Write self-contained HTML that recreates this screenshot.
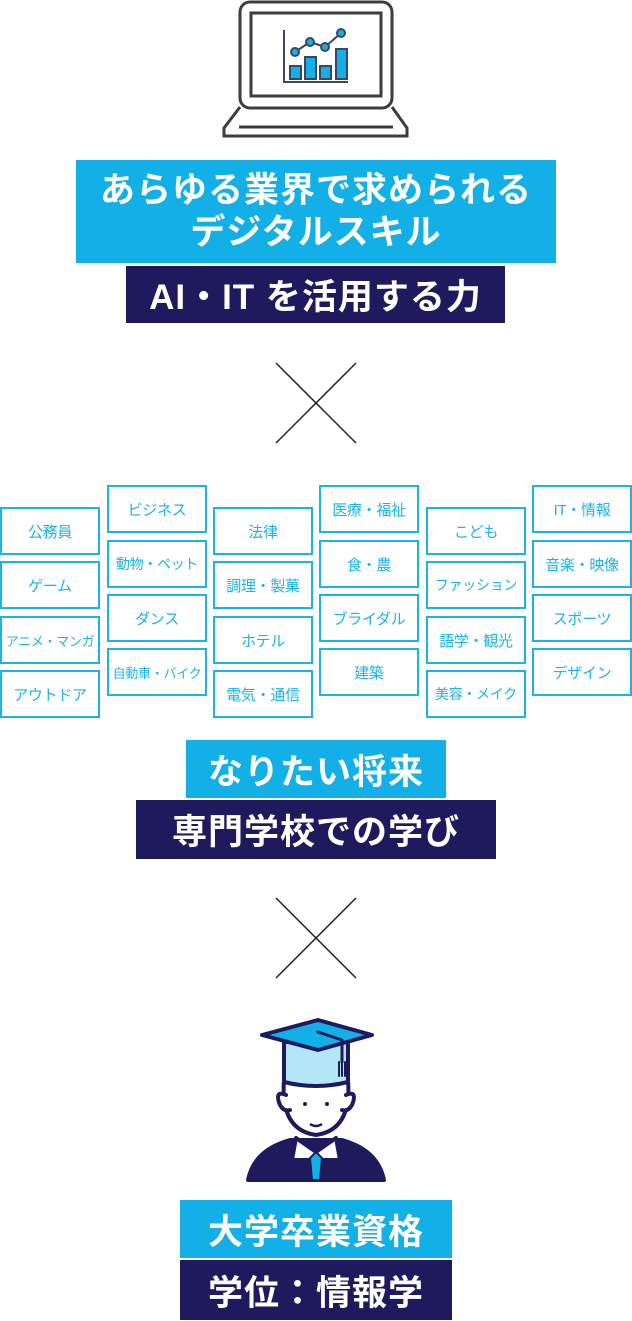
<!DOCTYPE html>
<html><head><meta charset="utf-8"><style>
body{margin:0;width:632px;height:1321px;background:#fff;position:relative;font-family:"Liberation Sans","Noto Sans CJK JP",sans-serif;overflow:hidden}
.b{position:absolute;color:#fff;font-weight:bold;text-align:center;display:flex;align-items:center;justify-content:center;flex-direction:column;font-size:35px;letter-spacing:1px;white-space:nowrap}
.c{background:#12b0e6}.n{background:#1f1a5e}
.t{position:absolute;width:100px;height:48px;box-sizing:border-box;border:2.5px solid #1cb3e8;color:#1cb3e8;font-size:15px;display:flex;align-items:center;justify-content:center;white-space:nowrap;letter-spacing:-0.3px}
</style></head><body>
<svg style="position:absolute;left:0;top:0" width="632" height="1321">
<g fill="none" stroke="#3d3d3d" stroke-width="3">
<rect x="240" y="2" width="152" height="106" rx="10" fill="#fff"/>
<rect x="251" y="13" width="130" height="83"/>
<path d="M240 107 L224 128 L224 136 L407 136 L407 128 L392 107"/>
<line x1="239" y1="127" x2="393" y2="127"/>
</g>
<g stroke="#3d4560" stroke-width="2" fill="#12b0e6">
<polyline points="284,30 284,82 348,82" fill="none"/>
<polyline points="295,52 310,42 325,47 341,33" fill="none"/>
<rect x="290" y="66" width="11" height="13"/><rect x="305" y="57" width="11" height="22"/><rect x="320" y="66" width="11" height="13"/><rect x="336" y="49" width="11" height="30"/>
<circle cx="295" cy="52" r="4"/><circle cx="310" cy="42" r="4"/><circle cx="325" cy="47" r="4"/><circle cx="341" cy="33" r="4"/>
</g>
<g stroke="#222" stroke-width="1.5"><line x1="276" y1="363" x2="356" y2="443"/><line x1="356" y1="363" x2="276" y2="443"/>
<line x1="276" y1="898" x2="356" y2="978"/><line x1="356" y1="898" x2="276" y2="978"/></g>
<g stroke="#1f1a5e" stroke-width="4" stroke-linejoin="round" stroke-linecap="round">
<path d="M248 1180 Q254 1150 290 1140 L342 1140 Q378 1150 384 1180 Z" fill="#1f1a5e"/>
<path d="M296 1138 L316 1152 L336 1138 L340 1160 L292 1160 Z" fill="#fff"/>
<path d="M316 1152 L310 1158 L312 1180 L320 1180 L322 1158 Z" fill="#12b0e6" stroke-width="2"/>
<path d="M284 1080 Q280 1130 316 1135 Q352 1130 348 1080 Z" fill="#fff"/>
<path d="M286 1095 Q274 1090 280 1105 Q284 1112 290 1110" fill="#fff"/>
<path d="M346 1095 Q358 1090 352 1105 Q348 1112 342 1110" fill="#fff"/>
<path d="M284 1042 L284 1082 Q316 1090 348 1082 L348 1042 Z" fill="#b3e6f7"/>
<path d="M262 1035 L318 1020 L372 1035 L318 1050 Z" fill="#12b0e6"/>
<path d="M318 1032 L342 1040 L342 1062" fill="none" stroke-width="3"/>
<path d="M339 1062 L339 1076 M342 1062 L342 1076 M345 1062 L345 1076" stroke-width="2"/>
</g>
<circle cx="305" cy="1104" r="2" fill="#1f1a5e"/><circle cx="327" cy="1104" r="2" fill="#1f1a5e"/>
<path d="M310 1124 Q316 1128 322 1124" stroke="#1f1a5e" stroke-width="2.5" fill="none"/>
</svg>
<div class="b c" style="left:76px;top:160px;width:480px;height:103px;line-height:42px">あらゆる業界で求められる<br>デジタルスキル</div>
<div class="b n" style="left:126px;top:266px;width:379px;height:57px">AI・IT を活用する力</div>
<div class="b c" style="left:186px;top:740px;width:260px;height:58px">なりたい将来</div>
<div class="b n" style="left:136px;top:800px;width:360px;height:59px">専門学校での学び</div>
<div class="b c" style="left:180px;top:1200px;width:272px;height:58px">大学卒業資格</div>
<div class="b n" style="left:180px;top:1260px;width:272px;height:60px">学位：情報学</div>

<div class="t" style="left:0;top:507px">公務員</div>
<div class="t" style="left:0;top:561px">ゲーム</div>
<div class="t" style="left:0;top:616px;font-size:13px">アニメ・マンガ</div>
<div class="t" style="left:0;top:670px">アウトドア</div>
<div class="t" style="left:107px;top:485px">ビジネス</div>
<div class="t" style="left:107px;top:540px;font-size:14px">動物・ペット</div>
<div class="t" style="left:107px;top:594px">ダンス</div>
<div class="t" style="left:107px;top:648px;font-size:13px">自動車・バイク</div>
<div class="t" style="left:213px;top:507px">法律</div>
<div class="t" style="left:213px;top:561px">調理・製菓</div>
<div class="t" style="left:213px;top:616px">ホテル</div>
<div class="t" style="left:213px;top:670px">電気・通信</div>
<div class="t" style="left:319px;top:485px">医療・福祉</div>
<div class="t" style="left:319px;top:540px">食・農</div>
<div class="t" style="left:319px;top:594px">ブライダル</div>
<div class="t" style="left:319px;top:648px">建築</div>
<div class="t" style="left:426px;top:507px">こども</div>
<div class="t" style="left:426px;top:561px;font-size:14px">ファッション</div>
<div class="t" style="left:426px;top:616px">語学・観光</div>
<div class="t" style="left:426px;top:670px;font-size:14px">美容・メイク</div>
<div class="t" style="left:532px;top:485px">IT・情報</div>
<div class="t" style="left:532px;top:540px">音楽・映像</div>
<div class="t" style="left:532px;top:594px">スポーツ</div>
<div class="t" style="left:532px;top:648px">デザイン</div>
</body></html>
